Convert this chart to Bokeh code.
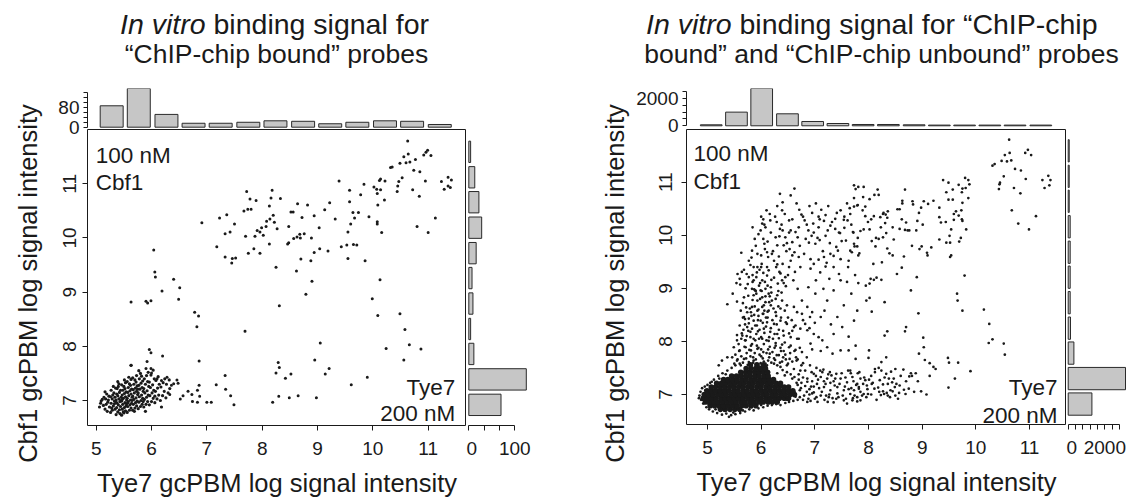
import math
from bokeh.plotting import figure
from bokeh.layouts import row, column
from bokeh.models import Range1d, FixedTicker, CustomJSTickFormatter, Spacer, LinearAxis
from bokeh.core.properties import value
from bokeh.embed import file_html
from bokeh.resources import INLINE

FONT = "Liberation Sans"
INK = "#1a1a1a"
BAR_FILL = "#c6c6c6"
BAR_LINE = "#2a2a2a"

# ---------------- data : left panel ("ChIP-chip bound" probes) ----------------
L_TOP_CENTERS = [5.28, 5.77, 6.27, 6.76, 7.25, 7.75, 8.24, 8.74, 9.23, 9.72, 10.22, 10.71, 11.21]
L_TOP_COUNTS = [87, 163, 52, 16, 16, 20, 26, 24, 14, 20, 26, 24, 11]
L_SIDE_CENTERS = [11.59, 11.12, 10.66, 10.19, 9.72, 9.26, 8.79, 8.32, 7.86, 7.39, 6.92]
L_SIDE_COUNTS = [4, 13, 22, 28, 16, 7, 9, 4, 11, 125, 70]

L_CLUSTER = [
    (5.06, 6.88), (5.08, 6.95), (5.11, 7.02), (5.13, 6.91), (5.09, 6.99), (5.14, 7.06),
    (5.16, 6.84), (5.18, 6.93), (5.21, 6.97), (5.17, 7.03), (5.23, 7.08), (5.19, 7.12), (5.24, 6.88),
    (5.22, 7.01), (5.20, 6.80), (5.16, 7.16),
    (5.26, 6.78), (5.28, 6.86), (5.31, 6.90), (5.27, 6.95), (5.33, 6.99), (5.29, 7.03), (5.34, 7.06),
    (5.30, 7.10), (5.32, 7.14), (5.27, 7.19), (5.35, 7.23), (5.29, 6.82), (5.33, 6.94), (5.26, 7.07),
    (5.31, 7.26), (5.34, 6.84),
    (5.36, 6.74), (5.39, 6.79), (5.42, 6.83), (5.37, 6.87), (5.44, 6.89), (5.40, 6.92), (5.38, 6.95),
    (5.43, 6.98), (5.36, 7.01), (5.41, 7.03), (5.45, 7.06), (5.39, 7.09), (5.37, 7.12), (5.42, 7.15),
    (5.44, 7.19), (5.38, 7.22), (5.40, 7.26), (5.43, 6.76), (5.36, 6.97), (5.41, 7.31), (5.45, 7.00),
    (5.39, 7.35),
    (5.46, 6.73), (5.50, 6.77), (5.53, 6.81), (5.47, 6.84), (5.51, 6.87), (5.54, 6.90), (5.48, 6.93),
    (5.52, 6.96), (5.46, 6.99), (5.55, 7.01), (5.49, 7.04), (5.53, 7.07), (5.47, 7.10), (5.51, 7.13),
    (5.54, 7.16), (5.48, 7.19), (5.52, 7.22), (5.50, 7.26), (5.46, 7.29), (5.53, 7.33), (5.49, 6.79),
    (5.55, 6.94), (5.47, 7.02), (5.51, 7.38),
    (5.56, 6.78), (5.60, 6.82), (5.63, 6.86), (5.57, 6.89), (5.61, 6.92), (5.64, 6.95), (5.58, 6.98),
    (5.62, 7.01), (5.56, 7.04), (5.65, 7.06), (5.59, 7.09), (5.63, 7.12), (5.57, 7.15), (5.61, 7.18),
    (5.64, 7.21), (5.58, 7.24), (5.62, 7.28), (5.60, 7.31), (5.56, 7.35), (5.63, 7.39), (5.59, 7.43),
    (5.65, 7.00), (5.57, 6.96), (5.63, 7.65),
    (5.66, 6.82), (5.70, 6.86), (5.73, 6.90), (5.67, 6.93), (5.71, 6.96), (5.74, 6.99), (5.68, 7.02),
    (5.72, 7.05), (5.66, 7.08), (5.75, 7.11), (5.69, 7.14), (5.73, 7.17), (5.67, 7.20), (5.71, 7.23),
    (5.74, 7.27), (5.68, 7.30), (5.72, 7.34), (5.70, 7.38), (5.66, 7.42), (5.73, 7.46), (5.69, 6.80),
    (5.75, 7.21),
    (5.76, 6.85), (5.80, 6.89), (5.83, 6.93), (5.77, 6.97), (5.81, 7.00), (5.84, 7.04), (5.78, 7.07),
    (5.82, 7.10), (5.76, 7.14), (5.85, 7.17), (5.79, 7.21), (5.83, 7.24), (5.77, 7.28), (5.81, 7.32),
    (5.84, 7.36), (5.78, 7.40), (5.82, 7.45), (5.80, 7.50), (5.85, 6.98), (5.77, 7.55),
    (5.86, 6.88), (5.90, 6.93), (5.93, 6.98), (5.87, 7.02), (5.91, 7.06), (5.94, 7.10), (5.88, 7.14),
    (5.92, 7.18), (5.86, 7.22), (5.95, 7.26), (5.89, 7.30), (5.93, 7.35), (5.87, 7.40), (5.91, 7.46),
    (5.94, 7.52), (5.89, 6.80),
    (5.96, 6.92), (6.00, 6.98), (6.03, 7.04), (5.97, 7.09), (6.01, 7.14), (6.04, 7.19), (5.98, 7.24),
    (6.02, 7.29), (5.96, 7.34), (6.05, 7.40), (5.99, 7.47), (6.03, 7.56),
    (6.06, 6.96), (6.10, 7.03), (6.13, 7.10), (6.07, 7.17), (6.11, 7.23), (6.14, 7.30), (6.08, 7.37),
    (6.12, 7.44), (6.06, 7.08),
    (6.16, 7.00), (6.20, 7.09), (6.23, 7.17), (6.17, 7.25), (6.21, 7.33), (6.24, 7.40), (6.18, 6.88),
    (6.26, 7.05), (6.30, 7.14), (6.33, 7.22), (6.27, 7.30), (6.32, 7.38),
]

L_SPREAD = [
    (7.72, 10.86), (7.78, 10.72), (7.89, 10.69), (7.67, 10.50), (7.74, 10.53), (7.80, 10.53),
    (8.18, 10.88), (8.16, 10.74), (8.13, 10.59), (8.20, 10.42), (8.08, 10.31), (8.14, 10.35),
    (8.07, 10.21), (7.99, 10.19), (7.91, 10.14), (7.96, 10.11), (7.87, 10.03), (8.02, 10.05),
    (7.70, 10.03), (8.13, 9.89), (8.27, 10.17), (6.91, 10.28), (7.23, 10.37), (7.36, 10.43),
    (7.33, 10.08), (7.42, 10.11), (7.50, 10.26), (7.18, 9.84), (7.33, 9.65), (7.46, 9.62),
    (7.45, 9.54), (7.52, 9.63), (7.75, 9.72), (7.85, 9.80), (7.96, 9.72), (8.25, 9.46),
    (8.31, 8.75), (7.69, 8.28),
    (6.04, 9.78), (6.06, 9.37), (6.07, 9.28), (6.19, 9.02), (6.40, 9.24), (6.51, 9.08), (6.49, 8.87),
    (5.63, 8.82), (5.90, 8.83), (5.93, 8.80), (5.99, 8.84), (6.78, 8.63), (6.85, 8.56), (6.82, 8.36),
    (6.86, 7.73), (5.96, 7.94), (5.99, 7.88), (6.20, 7.82), (8.31, 7.61), (8.25, 7.51), (8.29, 7.70),
    (7.33, 7.46), (7.34, 7.21), (7.43, 7.09), (7.49, 6.92), (7.17, 7.29), (6.86, 7.28), (6.83, 7.19),
    (6.87, 7.08), (6.66, 7.17), (6.73, 7.11), (6.57, 7.09), (6.52, 7.03), (6.74, 6.98), (6.83, 6.97),
    (7.00, 6.97), (7.08, 6.97), (6.46, 7.38), (6.40, 7.31), (8.19, 6.97), (8.30, 7.08),
    (5.63, 7.65), (5.90, 7.59), (5.99, 7.59), (6.00, 7.51), (5.92, 7.72), (6.28, 7.43), (6.18, 7.37),
    (6.10, 7.40), (6.36, 7.28), (6.33, 7.11), (6.48, 7.32),
    (10.63, 11.79), (10.56, 11.50), (10.64, 11.55), (10.49, 11.38), (10.60, 11.39), (10.67, 11.40),
    (10.77, 11.45), (10.92, 11.53), (10.96, 11.58), (10.99, 11.62), (11.05, 11.52), (10.32, 11.30),
    (10.35, 11.31), (10.74, 11.25), (10.85, 11.22), (10.95, 11.05), (10.53, 11.11), (10.47, 11.04),
    (10.45, 10.96), (10.44, 10.86), (10.72, 10.89), (10.84, 10.77), (11.24, 11.04), (11.36, 11.12),
    (11.42, 11.07), (11.36, 10.96), (11.40, 10.93), (11.29, 10.90), (11.13, 10.37), (10.80, 10.21),
    (11.00, 10.10), (10.22, 11.05), (10.14, 11.09), (10.12, 11.06), (10.02, 10.94), (10.07, 10.90),
    (10.14, 10.89), (10.08, 10.82), (10.21, 10.70), (10.09, 10.61), (9.84, 10.99), (9.78, 10.80),
    (9.58, 10.88), (9.58, 10.67), (9.64, 10.47), (9.74, 10.47), (9.67, 10.37), (9.60, 10.26),
    (9.55, 10.11), (9.93, 10.39), (10.08, 10.30), (10.08, 10.26), (10.16, 10.10), (9.22, 10.65),
    (9.13, 10.52), (9.32, 10.35), (9.39, 11.05), (9.43, 9.84), (9.53, 9.87), (9.65, 9.88),
    (9.71, 9.87), (9.55, 9.62), (9.86, 9.58), (9.03, 10.19), (8.94, 10.41), (8.82, 10.61),
    (8.64, 10.63), (8.72, 10.38), (8.52, 10.48), (8.56, 10.48), (8.48, 10.21), (8.89, 10.00),
    (8.76, 10.08), (8.68, 10.07), (8.69, 10.00), (8.63, 10.02), (8.57, 9.99), (8.48, 9.91),
    (8.46, 9.89), (8.94, 9.73), (9.04, 9.80), (9.19, 9.76), (8.88, 9.58), (8.70, 9.61),
    (8.62, 9.39), (8.90, 9.20), (8.79, 8.96), (8.33, 10.73), (8.22, 10.29), (10.13, 9.23),
    (9.99, 8.88), (10.09, 8.57), (10.49, 8.60), (10.58, 8.31), (10.66, 8.03), (10.87, 7.95),
    (10.24, 7.96), (10.56, 7.75), (9.05, 8.06), (8.95, 7.75), (9.21, 7.59), (9.14, 7.49),
    (8.42, 7.41), (8.52, 7.49), (9.90, 7.43), (9.61, 7.29), (8.49, 7.05), (8.65, 7.09), (8.98, 7.05),
]

# ---------------- data : right panel (bound + unbound probes) ----------------
R_TOP_CENTERS = [5.07, 5.54, 6.01, 6.49, 6.96, 7.43, 7.90, 8.37, 8.85, 9.32, 9.79, 10.26, 10.73, 11.21]
R_TOP_COUNTS = [73, 1000, 2875, 878, 315, 168, 95, 95, 73, 51, 51, 51, 51, 51]
R_SIDE_CENTERS = [11.59, 11.11, 10.64, 10.16, 9.68, 9.21, 8.73, 8.25, 7.78, 7.30, 6.82]
R_SIDE_COUNTS = [55, 55, 55, 109, 109, 109, 109, 125, 311, 3126, 1293]

# dense core of the cloud: rows of (y, [x ...])
R_CORE_ROWS = [
    (6.72, [5.24, 5.33, 5.42, 5.51, 5.60]),
    (6.79, [5.05, 5.13, 5.21, 5.30, 5.38, 5.47, 5.55, 5.64, 5.72, 5.81, 5.90]),
    (6.86, [4.96, 5.04, 5.12, 5.20, 5.28, 5.37, 5.45, 5.53, 5.62, 5.70, 5.79, 5.87, 5.96, 6.04,
            6.13, 6.21, 6.30]),
    (6.93, [4.92, 5.00, 5.08, 5.16, 5.25, 5.33, 5.41, 5.50, 5.58, 5.66, 5.75, 5.83, 5.92, 6.00,
            6.09, 6.17, 6.26, 6.34, 6.43, 6.51]),
    (7.00, [4.94, 5.02, 5.10, 5.19, 5.27, 5.35, 5.44, 5.52, 5.60, 5.69, 5.77, 5.86, 5.94, 6.03,
            6.11, 6.20, 6.28, 6.37, 6.45, 6.54, 6.62]),
    (7.07, [4.99, 5.07, 5.15, 5.24, 5.32, 5.40, 5.49, 5.57, 5.66, 5.74, 5.83, 5.91, 6.00, 6.08,
            6.17, 6.25, 6.34, 6.42, 6.51, 6.59]),
    (7.14, [5.07, 5.15, 5.24, 5.32, 5.41, 5.49, 5.58, 5.66, 5.75, 5.83, 5.92, 6.00, 6.09, 6.17,
            6.26, 6.34, 6.43, 6.51]),
    (7.21, [5.17, 5.26, 5.34, 5.43, 5.51, 5.60, 5.68, 5.77, 5.85, 5.94, 6.02, 6.11, 6.19, 6.28,
            6.36]),
    (7.28, [5.30, 5.38, 5.47, 5.55, 5.64, 5.72, 5.81, 5.89, 5.98, 6.06, 6.15, 6.23]),
    (7.35, [5.45, 5.54, 5.62, 5.71, 5.79, 5.88, 5.96, 6.05, 6.13]),
    (7.42, [5.62, 5.71, 5.79, 5.88, 5.96, 6.04, 6.12]),
    (7.49, [5.72, 5.81, 5.90, 5.99, 6.08]),
    (7.56, [5.80, 5.92, 6.04]),
]

R_SPREAD = [
    # fringe of the core
    (4.85, 6.98), (4.87, 7.05), (4.84, 6.93), (4.90, 7.12), (4.95, 7.15), (4.92, 6.83), (4.98, 6.76),
    (5.03, 6.72), (4.88, 6.90), (5.00, 7.18), (5.05, 7.22), (5.10, 6.68), (5.18, 6.65), (5.27, 6.62),
    (5.35, 6.64), (5.44, 6.61), (5.52, 6.63), (5.61, 6.65), (5.70, 6.68), (5.78, 6.72), (5.86, 6.70),
    (5.95, 6.74), (6.04, 6.76), (6.12, 6.79), (6.20, 6.80), (6.28, 6.82), (6.36, 6.80), (6.45, 6.84),
    (6.52, 6.86), (6.60, 6.88), (6.68, 6.90), (5.40, 6.58), (5.31, 6.70), (5.15, 6.72), (5.12, 7.28),
    (5.20, 7.35), (5.28, 7.40), (5.37, 7.45), (5.45, 7.50), (5.52, 7.55), (5.60, 7.58), (6.72, 6.95),
    (6.80, 6.98), (6.85, 7.05), (6.90, 7.10), (6.82, 7.16), (6.75, 7.22), (6.70, 7.28), (6.62, 7.33),
    (6.55, 7.38), (6.48, 7.42), (6.40, 7.46), (6.88, 6.92), (6.95, 7.02), (6.93, 7.15), (6.86, 7.24),
    (6.78, 7.32), (4.96, 7.08), (5.02, 6.82), (5.08, 7.24), (5.22, 7.30), (5.34, 7.38), (5.48, 6.66),
    (5.66, 6.70), (5.82, 6.76), (6.00, 6.80), (6.16, 6.84), (6.32, 6.88), (6.48, 6.90), (6.64, 6.96),
    (6.58, 7.30), (6.44, 7.36), (6.30, 7.40), (6.68, 7.18), (6.72, 7.08),
    # vertical plume
    (6.10, 10.47), (6.04, 10.30), (6.02, 10.22), (5.99, 10.09), (5.84, 10.15), (5.88, 9.93),
    (6.04, 9.93), (6.06, 9.84), (6.07, 9.74), (6.11, 9.68), (6.20, 9.65), (6.13, 9.59), (6.29, 10.25),
    (6.35, 10.12), (6.40, 10.09), (6.45, 9.96), (6.34, 9.98), (6.30, 9.81), (6.24, 9.52), (6.28, 9.40),
    (6.34, 9.31), (6.40, 9.46), (6.45, 9.21), (6.39, 9.15), (6.31, 9.09), (6.46, 9.04), (6.52, 9.40),
    (6.01, 9.46), (5.93, 9.40), (5.97, 9.35), (6.04, 9.29), (6.11, 9.24), (6.19, 9.16), (6.02, 9.15),
    (5.91, 9.21), (5.84, 9.12), (5.77, 9.21), (5.61, 9.07), (5.56, 9.27), (5.64, 9.31), (5.73, 9.27),
    (5.83, 8.99), (5.89, 8.96), (5.86, 8.87), (5.99, 8.96), (6.08, 8.99), (6.14, 8.90), (6.02, 8.83),
    (5.93, 8.77), (6.08, 8.74), (6.20, 8.77), (6.30, 8.87), (6.39, 8.77), (6.48, 8.68), (6.61, 8.65),
    (6.67, 8.55), (6.76, 8.52), (6.36, 8.62), (6.27, 8.55), (6.14, 8.58), (6.04, 8.52), (5.93, 8.58),
    (5.83, 8.65), (5.74, 8.55), (5.68, 8.46), (5.77, 8.43), (5.86, 8.39), (5.99, 8.39), (6.11, 8.36),
    (6.24, 8.33), (6.36, 8.39), (6.48, 8.33), (6.61, 8.27), (6.73, 8.24), (6.86, 8.21), (5.74, 8.27),
    (5.83, 8.24), (5.94, 8.19), (6.05, 8.24), (6.17, 8.18), (6.30, 8.14), (6.42, 8.11), (6.55, 8.08),
    (6.67, 8.05), (5.65, 8.11), (5.55, 8.02), (5.71, 8.02), (5.80, 8.08), (5.89, 8.02), (6.02, 8.05),
    (6.14, 8.01), (6.27, 7.97), (6.39, 7.94), (6.52, 7.89), (6.64, 7.84), (6.76, 7.80), (5.49, 7.89),
    (5.60, 7.83), (5.71, 7.89), (5.81, 7.83), (5.93, 7.86), (6.04, 7.80), (6.16, 7.77), (6.29, 7.74),
    (6.41, 7.70), (6.53, 7.67), (6.66, 7.64), (6.78, 7.59), (6.91, 7.55), (7.03, 7.50), (7.16, 7.47),
    (7.28, 7.42), (7.40, 7.39), (5.46, 7.70), (5.55, 7.64), (5.68, 7.67), (5.77, 7.61), (5.86, 7.64),
    (5.99, 7.59), (6.11, 7.55), (6.24, 7.58), (6.36, 7.52), (6.48, 7.55), (6.61, 7.48), (6.73, 7.45),
    (5.27, 7.64), (5.37, 7.70), (5.21, 7.55),
    (5.63, 9.67), (5.54, 9.10), (5.47, 8.90), (5.37, 8.70), (5.55, 8.75), (5.68, 8.83), (5.77, 9.52),
    (5.83, 9.71), (5.93, 9.65), (5.86, 9.40), (6.11, 9.40), (6.27, 9.96), (6.52, 10.28), (6.39, 10.47),
    (6.17, 10.28), (6.08, 10.15), (6.42, 9.81), (6.55, 10.09),
    (5.58, 7.95), (5.64, 8.15), (5.70, 8.32), (5.76, 8.20), (5.81, 7.92), (5.87, 8.50), (5.92, 8.30),
    (5.96, 8.05), (6.00, 7.72), (6.06, 8.58), (6.09, 8.45), (6.13, 7.85), (6.18, 8.68), (6.22, 8.05),
    (6.26, 7.65), (6.33, 8.22), (6.37, 7.82), (6.44, 7.98), (5.52, 7.75), (5.62, 7.55), (5.73, 7.78),
    (5.85, 7.70), (5.95, 7.88), (6.05, 7.62), (6.15, 7.70), (6.25, 7.88), (6.35, 7.60), (6.45, 7.75),
    (6.55, 7.92), (6.65, 7.70), (6.75, 7.55), (6.85, 7.70), (6.95, 7.85), (5.79, 8.62), (5.90, 8.95),
    (5.98, 9.10), (6.02, 8.65), (6.12, 9.05), (6.16, 8.85), (5.84, 9.25), (5.71, 9.00), (5.66, 8.45),
    (6.28, 8.48), (6.32, 8.95), (6.50, 8.45), (6.58, 8.20), (6.70, 8.05), (6.78, 8.40), (6.90, 8.25),
    (7.00, 8.35),
    (5.50, 7.58), (5.56, 7.66), (5.59, 7.82), (5.63, 7.72), (5.66, 7.60), (5.69, 7.90), (5.72, 7.68),
    (5.75, 7.56), (5.78, 7.84), (5.80, 7.72), (5.83, 7.95), (5.85, 7.60), (5.88, 7.78), (5.90, 7.66),
    (5.92, 7.92), (5.95, 7.55), (5.97, 7.75), (6.00, 7.85), (6.03, 7.68), (6.05, 7.95), (6.08, 7.58),
    (6.10, 7.78), (6.13, 7.64), (6.16, 7.90), (6.19, 7.60), (6.21, 7.80), (6.24, 7.68), (6.27, 7.92),
    (6.30, 7.55), (6.33, 7.74), (6.36, 7.88), (6.39, 7.62), (6.42, 7.82), (6.46, 7.66), (6.50, 7.58),
    (6.54, 7.78), (6.58, 7.62), (6.62, 7.82), (6.68, 7.66), (6.72, 7.88),
    (5.55, 8.12), (5.60, 8.30), (5.63, 8.05), (5.67, 8.22), (5.70, 8.42), (5.73, 8.10), (5.77, 8.34),
    (5.80, 8.18), (5.82, 8.48), (5.86, 8.05), (5.89, 8.30), (5.91, 8.14), (5.94, 8.40), (5.97, 8.22),
    (6.00, 8.08), (6.03, 8.35), (6.06, 8.16), (6.09, 8.28), (6.12, 8.45), (6.15, 8.08), (6.18, 8.25),
    (6.21, 8.40), (6.25, 8.14), (6.29, 8.32), (6.33, 8.06), (6.37, 8.45), (6.41, 8.20), (6.46, 8.36),
    (6.52, 8.15), (6.57, 8.40), (6.64, 8.30), (5.70, 8.02), (5.95, 8.48), (6.10, 8.02),
    (5.62, 8.58), (5.66, 8.72), (5.72, 8.64), (5.76, 8.86), (5.81, 8.55), (5.84, 8.78), (5.88, 8.66),
    (5.91, 8.90), (5.95, 8.60), (5.98, 8.80), (6.01, 8.95), (6.05, 8.68), (6.08, 8.85), (6.12, 8.56),
    (6.15, 8.74), (6.19, 8.92), (6.23, 8.62), (6.27, 8.80), (6.32, 8.66), (6.38, 8.92), (6.44, 8.58),
    (5.87, 8.98), (6.03, 8.52),
    (5.60, 9.18), (5.68, 9.35), (5.75, 9.08), (5.80, 9.44), (5.86, 9.15), (5.92, 9.30), (5.96, 9.05),
    (6.00, 9.40), (6.07, 9.12), (6.14, 9.34), (6.18, 9.02), (6.24, 9.20), (6.30, 9.45), (6.36, 9.28),
    (6.42, 9.10), (6.50, 9.25),
    (5.82, 9.58), (5.90, 9.80), (5.95, 10.02), (6.00, 9.62), (6.06, 10.20), (6.12, 9.88), (6.18, 10.05),
    (6.22, 9.70), (6.26, 10.35), (6.33, 9.60), (6.38, 10.20), (6.48, 9.85), (6.58, 9.62), (6.16, 10.40),
    (6.00, 10.35),
    # upper cloud (x 6.4 - 7.9)
    (7.73, 10.94), (7.76, 10.87), (7.65, 10.51), (7.73, 10.54), (7.80, 10.57), (7.66, 10.40),
    (7.61, 10.28), (7.54, 10.29), (7.41, 10.42), (7.38, 10.31), (7.48, 10.47), (7.55, 10.14),
    (7.47, 10.04), (7.50, 9.89), (7.43, 9.71), (7.35, 9.61), (7.66, 9.71), (7.73, 9.84), (7.81, 9.62),
    (7.63, 9.52), (7.60, 9.12), (7.07, 10.35), (7.09, 10.30), (7.07, 10.15), (6.97, 10.22),
    (6.94, 9.99), (6.88, 10.09), (6.83, 9.93), (6.89, 9.86), (7.01, 9.84), (7.09, 9.91), (7.20, 9.99),
    (7.24, 10.09), (7.29, 10.18), (7.17, 10.27), (7.29, 9.65), (7.17, 9.59), (7.07, 9.54),
    (6.98, 9.46), (6.92, 9.37), (7.20, 9.41), (7.35, 9.40), (7.45, 9.27), (7.27, 9.18), (6.71, 10.48),
    (6.75, 10.39), (6.81, 10.28), (6.70, 10.15), (6.64, 10.06), (6.68, 9.96), (6.58, 9.87),
    (6.53, 9.74), (6.62, 9.68), (6.70, 9.59), (6.55, 9.52), (6.73, 9.40), (6.63, 9.31), (6.60, 9.15),
    (6.68, 8.99), (6.76, 8.77), (6.86, 8.65), (6.95, 8.55), (6.91, 8.46), (6.82, 8.33), (6.98, 8.14),
    (7.07, 8.08), (6.92, 7.96), (7.14, 8.02), (7.23, 7.89), (7.35, 8.14), (7.51, 8.27), (7.63, 8.09),
    (7.73, 8.39), (7.79, 8.58), (7.68, 8.90), (7.54, 8.68), (7.42, 8.46), (7.30, 8.32), (7.18, 8.58),
    (7.11, 8.46), (7.01, 8.90), (7.16, 8.99), (7.23, 8.77), (7.35, 8.96), (7.48, 9.15), (7.02, 9.15),
    (6.88, 9.02), (7.11, 7.82), (7.33, 7.77), (7.48, 7.83), (7.63, 7.83), (7.76, 7.92),
    (6.90, 10.55), (6.95, 10.42), (7.02, 10.60), (7.12, 10.48), (7.20, 10.38), (7.25, 10.55),
    (7.32, 10.25), (7.38, 10.12), (7.45, 10.05), (7.55, 10.35), (7.60, 10.60), (7.68, 10.20),
    (7.72, 10.05), (7.80, 9.95), (7.58, 9.90), (7.40, 9.78), (7.28, 9.85), (7.15, 9.70), (7.05, 9.95),
    (6.98, 10.05), (6.85, 10.20), (6.78, 10.35), (6.72, 9.80), (6.80, 9.65), (6.92, 9.55),
    (7.10, 9.30), (7.22, 9.48), (7.48, 9.55), (7.62, 9.40), (7.75, 9.25), (6.66, 10.60), (6.58, 10.30),
    (6.52, 10.05), (6.47, 9.70), (6.44, 10.40), (6.40, 10.62), (6.35, 10.78), (6.55, 10.75),
    (6.62, 10.88), (6.30, 10.55),
    # lower tail (x 6.6 - 9)
    (7.60, 7.23), (7.70, 7.33), (7.79, 7.20), (6.98, 7.39), (7.11, 7.33), (7.23, 7.30), (7.35, 7.25),
    (7.48, 7.30), (7.04, 7.20), (7.17, 7.14), (7.29, 7.08), (7.42, 7.14), (7.54, 7.08), (7.66, 7.01),
    (7.82, 7.11), (6.98, 7.04), (7.11, 6.98), (7.26, 6.95), (7.40, 6.92), (7.54, 6.89), (7.70, 6.89),
    (7.79, 6.95), (7.24, 6.86), (7.05, 6.86), (6.86, 6.86), (7.60, 6.83),
    (6.95, 7.25), (7.02, 7.35), (7.08, 7.12), (7.14, 7.42), (7.20, 7.20), (7.27, 7.00), (7.31, 7.36),
    (7.37, 7.17), (7.44, 6.95), (7.50, 7.40), (7.56, 7.15), (7.62, 7.45), (7.68, 7.12), (7.74, 6.98),
    (7.80, 7.40), (7.85, 7.05), (6.92, 6.88), (7.00, 6.92), (7.18, 6.90), (7.35, 6.85), (7.58, 6.92),
    (7.72, 7.25), (7.90, 7.20), (7.96, 6.95), (8.05, 7.35), (8.15, 6.90), (8.38, 7.30), (8.55, 6.92),
    (8.70, 7.25), (8.85, 7.05),
    (6.62, 7.05), (6.66, 7.22), (6.70, 7.38), (6.74, 7.12), (6.78, 6.90), (6.82, 7.45), (6.86, 7.30),
    (6.90, 7.00), (6.94, 7.42), (6.98, 7.15), (7.03, 6.95), (7.06, 7.28), (7.10, 7.45), (7.13, 7.05),
    (7.17, 7.25), (7.21, 6.98), (7.25, 7.38), (7.29, 7.22), (7.33, 6.93), (7.38, 7.30), (7.42, 7.02),
    (7.46, 7.20), (7.52, 6.98), (7.57, 7.32), (7.63, 7.10), (7.67, 7.40), (7.71, 6.93), (7.77, 7.18),
    (7.83, 7.42), (7.88, 6.98), (7.92, 7.32), (7.98, 7.10), (8.08, 7.22), (8.12, 7.42), (8.20, 7.05),
    (8.30, 7.32), (8.40, 6.95), (8.47, 7.30), (8.60, 7.35), (8.92, 7.25),
    # right part (x 7.6 - 11.5)
    (10.62, 11.80), (10.54, 11.51), (10.63, 11.55), (10.58, 11.39), (10.66, 11.41), (10.48, 11.40),
    (10.31, 11.31), (10.35, 11.34), (10.52, 11.11), (10.45, 10.99), (10.44, 10.96), (10.43, 10.87),
    (10.73, 11.25), (10.84, 11.22), (10.92, 11.55), (10.97, 11.61), (11.03, 11.51), (10.93, 11.06),
    (10.71, 10.89), (10.83, 10.79), (10.67, 10.47), (10.79, 10.22), (10.99, 10.11), (11.12, 10.36),
    (11.24, 11.04), (11.35, 11.12), (11.39, 11.04), (11.28, 10.89), (11.37, 10.94), (9.80, 11.08),
    (9.86, 11.04), (9.88, 10.96), (9.75, 10.88), (9.81, 10.89), (9.74, 10.81), (9.86, 10.70),
    (9.75, 10.61), (9.68, 10.95), (9.49, 10.99), (9.45, 10.81), (9.59, 10.40), (9.74, 10.30),
    (9.75, 10.27), (9.82, 10.11), (9.72, 9.95), (9.51, 9.99), (9.52, 9.59), (9.79, 9.24), (9.65, 8.90),
    (9.75, 8.58), (10.15, 8.60), (10.25, 8.33), (10.31, 8.04), (10.52, 7.96), (10.24, 7.97),
    (10.54, 7.75), (9.66, 8.77), (9.39, 11.04), (9.57, 10.86), (9.49, 10.67), (9.57, 10.67),
    (9.32, 10.52), (9.32, 10.34), (9.35, 10.24), (9.44, 10.25), (9.59, 10.29), (9.63, 10.45),
    (9.73, 10.47), (9.68, 10.37), (9.54, 10.11), (9.45, 9.86), (9.52, 9.86), (9.69, 9.88),
    (9.32, 9.92), (9.54, 9.62), (9.21, 10.65), (9.11, 10.59), (9.03, 10.64), (8.98, 10.52),
    (8.94, 10.42), (8.91, 10.27), (9.01, 10.20), (8.89, 10.09), (8.81, 9.80), (8.95, 9.74),
    (8.99, 9.79), (9.10, 9.62), (9.17, 9.77), (9.09, 9.67), (8.90, 9.21), (8.79, 8.96), (8.93, 8.53),
    (8.68, 10.86), (8.63, 10.65), (8.63, 10.60), (8.82, 10.64), (8.83, 10.58), (8.73, 10.09),
    (8.76, 10.09), (8.68, 10.10), (8.58, 10.12), (8.70, 10.24), (8.62, 10.30), (8.54, 10.49),
    (8.58, 10.49), (8.66, 9.60), (8.53, 9.27), (8.62, 9.39), (8.70, 8.27), (8.68, 8.19), (8.35, 8.19),
    (8.30, 8.11), (8.30, 8.74), (8.33, 10.04), (8.45, 10.15), (8.47, 9.92), (8.35, 9.75), (8.39, 9.66),
    (8.45, 9.62), (8.25, 9.49), (8.09, 9.46), (8.04, 9.18), (8.10, 9.16), (8.15, 9.20), (8.24, 9.16),
    (8.02, 9.09), (7.95, 9.05), (7.81, 9.10), (7.96, 8.77), (8.02, 8.82), (8.06, 8.56), (8.31, 10.23),
    (8.35, 10.33), (8.28, 10.42), (8.22, 10.34), (8.10, 10.36), (8.05, 10.30), (7.99, 10.25),
    (7.91, 10.11), (7.85, 10.08), (8.02, 10.11), (8.06, 9.89), (8.19, 9.93), (8.27, 9.96), (8.13, 9.79),
    (8.14, 9.95), (8.23, 10.15), (7.79, 9.79), (7.83, 9.66), (7.74, 9.79), (7.69, 9.68), (7.71, 10.06),
    (7.94, 10.36), (7.89, 10.47), (7.79, 10.56), (7.73, 10.70), (7.90, 10.72), (8.11, 10.76),
    (8.19, 10.76), (8.17, 10.86), (8.02, 10.68), (7.94, 10.54), (7.81, 10.91), (7.91, 10.91),
    (8.27, 10.40), (8.32, 10.39), (8.36, 10.45),
    (9.02, 8.07), (9.03, 7.89), (8.94, 7.77), (9.05, 7.65), (9.14, 7.59), (9.25, 7.48), (9.21, 7.52),
    (9.14, 7.35), (9.48, 7.69), (9.50, 7.60), (9.67, 7.60), (9.90, 7.44), (9.61, 7.30), (9.49, 7.13),
    (8.98, 7.06), (9.08, 7.00), (8.88, 7.40), (8.81, 7.35), (8.76, 7.34), (8.65, 7.47), (8.50, 7.48),
    (8.42, 7.43), (8.33, 7.39), (8.24, 7.45), (8.19, 7.50), (8.12, 7.48), (8.00, 7.69), (8.01, 7.83),
    (8.24, 7.61), (8.33, 7.70), (7.76, 7.67), (7.66, 7.45), (7.85, 7.30), (7.94, 7.27), (8.01, 7.28),
    (8.06, 7.20), (7.97, 7.17), (8.11, 7.11), (8.21, 7.27), (8.27, 7.19), (8.36, 7.20), (8.44, 7.23),
    (8.49, 7.14), (8.52, 7.20), (8.58, 7.17), (8.66, 7.09), (8.69, 7.01), (8.57, 7.03), (8.41, 7.08),
    (8.34, 7.03), (8.29, 7.01), (8.23, 6.99), (8.18, 7.13), (8.05, 7.00), (7.99, 7.01), (7.91, 7.01),
    (7.85, 6.89), (7.79, 6.87), (7.73, 7.08), (7.82, 7.14), (8.50, 6.98), (8.45, 7.06), (8.36, 6.98),
    (8.27, 7.06), (8.75, 7.11), (8.79, 7.40),
]

Y_TITLE = "Cbf1 gcPBM log signal intensity"
X_TITLE = "Tye7 gcPBM log signal intensity"


# ---------------- helpers ----------------
def base_fig(w, h, xr, yr, bl, br, bt, bb):
    p = figure(width=w, height=h, x_range=xr, y_range=yr, output_backend="svg", title=None,
               toolbar_location=None, x_axis_location=None, y_axis_location=None,
               min_border_left=bl, min_border_right=br, min_border_top=bt, min_border_bottom=bb)
    p.xgrid.visible = False
    p.ygrid.visible = False
    p.outline_line_color = None
    p.background_fill_color = "white"
    p.border_fill_color = "white"
    return p


def style_axis(ax, tick_out=5, label_size="19px", standoff=6):
    ax.major_tick_out = tick_out
    ax.major_tick_in = 0
    ax.minor_tick_out = 0
    ax.minor_tick_in = 0
    ax.major_tick_line_color = INK
    ax.axis_line_color = INK
    ax.major_label_text_font = FONT
    ax.major_label_text_font_size = label_size
    ax.major_label_text_color = INK
    ax.major_label_standoff = standoff
    ax.axis_label_text_font = FONT
    ax.axis_label_text_font_size = "25.5px"
    ax.axis_label_text_font_style = "normal"
    ax.axis_label_text_color = INK


def split(points):
    return [p[0] for p in points], [p[1] for p in points]


def panel(geo, top_centers, top_counts, top_width, top_ticks, top_labels,
          side_centers, side_counts, side_height, side_ticks, side_label_js,
          spreads, core_rows, title_parts):
    W = geo["W"]
    SW = geo["strip_w"]
    xr = Range1d(*geo["xr"])
    yr = Range1d(*geo["yr"])

    # ---- title ----
    tf = base_fig(W, 80, Range1d(0, W), Range1d(80, 0), 0, 0, 0, 0)
    for (txt, x, y, align, style, size) in title_parts:
        tf.text(x=[x], y=[y], text=[txt], text_font=value(FONT), text_font_size=value(size),
                text_font_style=style, text_align=align, text_baseline="alphabetic", text_color=INK)

    # ---- y-axis title strip ----
    st = base_fig(SW, 420, Range1d(0, SW), Range1d(0, 420), 0, 0, 0, 0)
    st.text(x=[geo["ylab_x"]], y=[420 - (283 - 80)], text=[Y_TITLE], angle=math.pi / 2,
            text_font=value(FONT), text_font_size=value("25.5px"), text_align="center",
            text_baseline="middle", text_color=INK)

    scw = W - SW - geo["side_w"]
    bl = geo["bl"]

    # ---- top histogram ----
    th = base_fig(scw, 57, xr, Range1d(*geo["top_yr"]), bl, 0, 8, 8)
    th.margin = (0, 0, -8, 0)
    th.border_fill_color = None
    th.background_fill_color = None
    th.vbar(x=top_centers, width=top_width, top=top_counts, bottom=0,
            fill_color=BAR_FILL, line_color=BAR_LINE, line_width=1)
    tax = LinearAxis(ticker=FixedTicker(ticks=top_ticks), bounds=(top_ticks[0], top_ticks[-1]),
                     major_label_overrides={t: (str(t) if t in top_labels else "") for t in top_ticks})
    style_axis(tax, tick_out=4, standoff=4)
    th.add_layout(tax, "left")

    # ---- scatter ----
    sc = base_fig(scw, 371, xr, yr, bl, 0, 0, geo["bb"])
    sc.border_fill_color = None
    sc.outline_line_color = INK
    sc.outline_line_width = 1
    xax = LinearAxis(ticker=FixedTicker(ticks=[5, 6, 7, 8, 9, 10, 11]), bounds=(5, 11),
                     axis_label=X_TITLE)
    style_axis(xax, tick_out=5, standoff=11)
    xax.axis_label_standoff = 11
    sc.add_layout(xax, "below")
    yax = LinearAxis(ticker=FixedTicker(ticks=[7, 8, 9, 10, 11]), bounds=(7, 11),
                     major_label_orientation="vertical")
    style_axis(yax, tick_out=5, standoff=geo["ystand"])
    sc.add_layout(yax, "left")

    if core_rows:
        cx, cy = [], []
        for (yy, xs) in core_rows:
            cx += xs
            cy += [yy] * len(xs)
        sc.scatter(cx, cy, size=5.6, color=INK, line_color=None)
    for pts, size in spreads:
        px, py = split(pts)
        sc.scatter(px, py, size=size, color=INK, line_color=None)

    lab = geo["labels"]
    sc.text(x=[lab["x0"], lab["x0"]], y=[lab["y100"], lab["ycbf"]], text=["100 nM", "Cbf1"],
            text_font=value(FONT), text_font_size=value("22.5px"), text_align="left",
            text_baseline="alphabetic", text_color=INK)
    sc.text(x=[lab["x1"], lab["x1"]], y=[lab["ytye"], lab["y200"]], text=["Tye7", "200 nM"],
            text_font=value(FONT), text_font_size=value("22.5px"), text_align="right",
            text_baseline="alphabetic", text_color=INK)

    # ---- side histogram ----
    rh = base_fig(geo["side_w"], 371, Range1d(*geo["side_xr"]), yr, 0, geo["side_br"], 0, geo["bb"])
    rh.hbar(y=side_centers, height=side_height, left=0, right=side_counts,
            fill_color=BAR_FILL, line_color=BAR_LINE, line_width=1)
    rax = LinearAxis(ticker=FixedTicker(ticks=side_ticks), bounds=(side_ticks[0], side_ticks[-1]),
                     formatter=CustomJSTickFormatter(code=side_label_js))
    style_axis(rax, tick_out=5, standoff=11)
    rh.add_layout(rax, "below")

    body = column(row(th, Spacer(width=geo["side_w"], height=49)), row(sc, rh))
    return column(tf, row(st, body))


LEFT_GEO = dict(W=545, strip_w=45, ylab_x=27, side_w=79, side_br=10, bl=42, bb=75,
                xr=(4.843, 11.693), yr=(6.539, 12.002), top_yr=(-9.35, 157.3),
                side_xr=(-5.0, 145.0), ystand=6,
                labels=dict(x0=4.99, y100=11.52, ycbf=11.03, x1=11.49, ytye=7.245, y200=6.76))
RIGHT_GEO = dict(W=588, strip_w=85, ylab_x=69, side_w=67, side_br=0, bl=56, bb=76,
                 xr=(4.609, 11.689), yr=(6.435, 11.992), top_yr=(-271.0, 2729.0),
                 side_xr=(-93.0, 3562.0), ystand=9,
                 labels=dict(x0=4.74, y100=11.54, ycbf=11.01, x1=11.52, ytye=7.14, y200=6.60))

left = panel(LEFT_GEO, L_TOP_CENTERS, L_TOP_COUNTS, 0.415, [0, 20, 40, 60, 80, 100, 120, 140], [0, 80],
             L_SIDE_CENTERS, L_SIDE_COUNTS, 0.394, [0, 100 / 3, 200 / 3, 100],
             "return Math.abs(tick) < 1e-6 ? '0' : (Math.abs(tick - 100) < 1e-6 ? '100' : '');",
             [(L_CLUSTER, 3.2), (L_SPREAD, 3.0)], None,
             [("In vitro", 205, 23, "right", "italic", "28.5px"),
              ("binding signal for", 213, 23, "left", "normal", "28.5px"),
              ("\u201cChIP-chip bound\u201d probes", 276, 53, "center", "normal", "26.5px")])

right = panel(RIGHT_GEO, R_TOP_CENTERS, R_TOP_COUNTS, 0.404, [0, 500, 1000, 1500, 2000, 2500], [0, 2000],
              R_SIDE_CENTERS, R_SIDE_COUNTS, 0.42, [0, 400, 800, 1200, 1600, 2000, 2400, 2800],
              "return Math.abs(tick) < 1e-6 ? '0' : (Math.abs(tick - 2000) < 1e-6 ? '2000' : '');",
              [(R_SPREAD, 2.7)], R_CORE_ROWS,
              [("In vitro", 186, 23, "right", "italic", "28.5px"),
               ("binding signal for \u201cChIP-chip", 194, 23, "left", "normal", "28.5px"),
               ("bound\u201d and \u201cChIP-chip unbound\u201d probes", 336, 53, "center", "normal", "26.5px")])

layout = row(left, right)
open("out.html", "w").write(file_html(layout, INLINE))
